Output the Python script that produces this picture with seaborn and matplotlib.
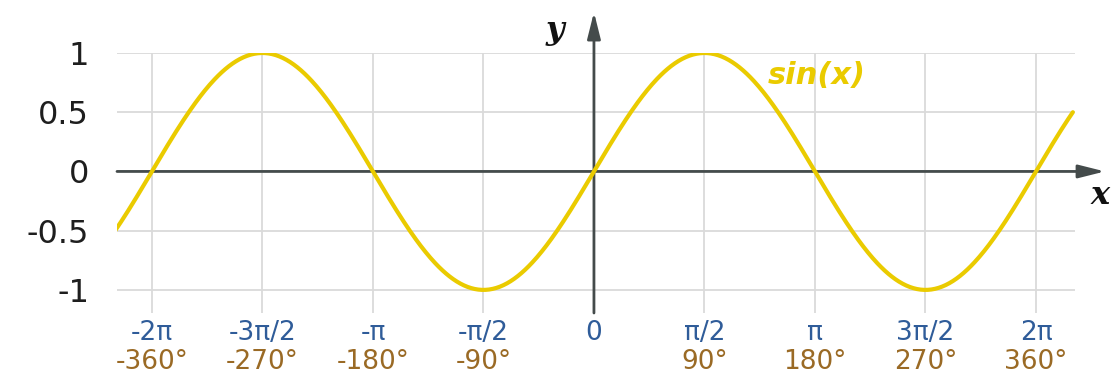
import numpy as np
import pandas as pd
import matplotlib
matplotlib.use("Agg")
import matplotlib.pyplot as plt
import matplotlib.transforms as mtransforms
import seaborn as sns

# x range of the drawn curve, in multiples of pi
x_start_pi = -13 / 6
x_end_pi = 13 / 6

# tick marks along x, in multiples of pi
tick_pi = [-2, -1.5, -1, -0.5, 0, 0.5, 1, 1.5, 2]
tick_rad = ['-2π', '-3π/2', '-π', '-π/2', '0', 'π/2', 'π', '3π/2', '2π']
tick_deg = ['-360°', '-270°', '-180°', '-90°', '', '90°', '180°', '270°', '360°']

y_ticks = [-1, -0.5, 0, 0.5, 1]
y_labels = ['-1', '-0.5', '0', '0.5', '1']

curve_label = 'sin(x)'

YELLOW = '#EACB00'
BLUE = '#2F5C99'
BROWN = '#9A6A25'
AXIS = '#444B4B'
GRID = '#DADADA'

sns.set_theme(style="white")
plt.rcParams['font.family'] = ['DejaVu Sans']

xs = np.linspace(x_start_pi * np.pi, x_end_pi * np.pi, 800)
df = pd.DataFrame({'x': xs, 'y': np.sin(xs)})

fig = plt.figure(figsize=(11.18, 3.8), dpi=100)
ax = fig.add_axes([117 / 1118, 67 / 380, 958 / 1118, 260 / 380])

sns.lineplot(data=df, x='x', y='y', ax=ax, color=YELLOW, linewidth=3.0, zorder=3)

ax.set_xlim(-2.158 * np.pi, 2.1765 * np.pi)
ax.set_ylim(-1.195, 1.0)
ax.set_xlabel('')
ax.set_ylabel('')

# grid
ax.set_xticks([t * np.pi for t in tick_pi])
ax.set_yticks(y_ticks)
ax.grid(True, color=GRID, linewidth=1.3)
for s in ax.spines.values():
    s.set_visible(False)
ax.tick_params(axis='both', length=0)
ax.tick_params(axis='x', pad=5, labelsize=19, labelcolor=BLUE)
ax.tick_params(axis='y', pad=20, labelsize=23, labelcolor='#1E1E1E')
ax.set_xticklabels(tick_rad)
ax.set_yticklabels(y_labels)

# degree row under the radian labels
trans = mtransforms.blended_transform_factory(ax.transData, ax.transAxes)
for t, lab in zip(tick_pi, tick_deg):
    ax.text(t * np.pi, -0.19, lab, transform=trans, ha='center', va='center',
            fontsize=19, color=BROWN, clip_on=False)

# coordinate axes with arrows
arrow = dict(arrowstyle='-|>,head_length=0.8,head_width=0.2', color=AXIS, lw=2.0,
             mutation_scale=20, shrinkA=0, shrinkB=0)
ax.annotate('', xy=(2.312 * np.pi, 0), xytext=(-2.158 * np.pi, 0),
            arrowprops=arrow, annotation_clip=False, zorder=2)
ax.annotate('', xy=(0, 1.345), xytext=(0, -1.195),
            arrowprops=arrow, annotation_clip=False, zorder=2)

ax.text(-0.176 * np.pi, 1.19, 'y', fontsize=23, fontweight='bold', fontstyle='italic',
        family=['DejaVu Serif'], color='#111111', ha='center', va='center', clip_on=False)
ax.text(2.29 * np.pi, -0.2, 'x', fontsize=23, fontweight='bold', fontstyle='italic',
        family=['DejaVu Serif'], color='#111111', ha='center', va='center', clip_on=False)

ax.text(0.787 * np.pi, 0.81, curve_label, fontsize=22, fontweight='bold', fontstyle='italic',
        color=YELLOW, ha='left', va='center')

fig.savefig('out.png', dpi=100)
